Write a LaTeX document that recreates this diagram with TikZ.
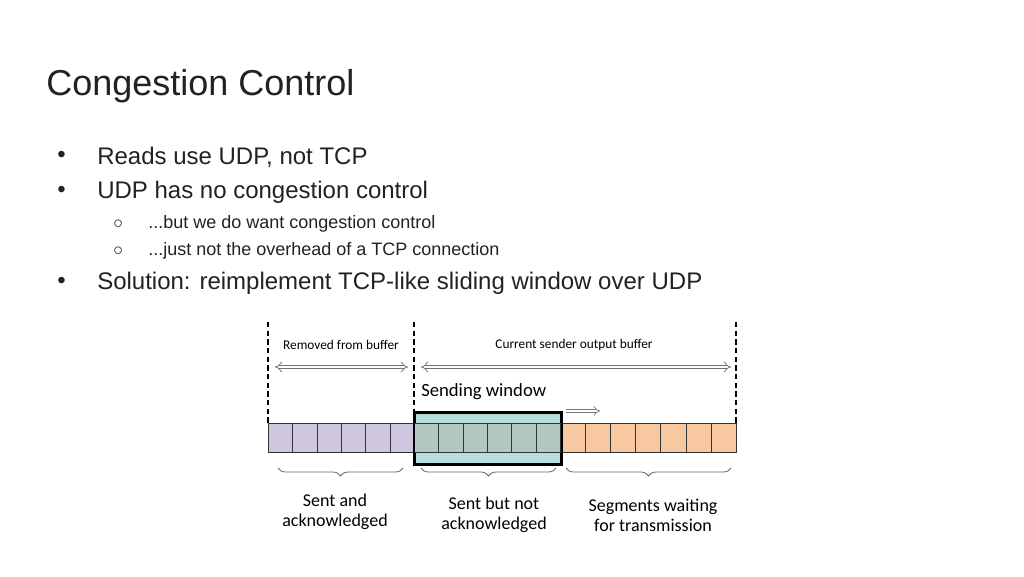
\documentclass[tikz,border=0pt]{standalone}
\usepackage{fontspec}
\setmainfont{Liberation Sans}
\newfontfamily\calfont{Carlito}
\usetikzlibrary{arrows.meta,decorations.pathreplacing}
\definecolor{purp}{HTML}{CEC6DC}
\definecolor{win}{HTML}{B5DEDF}
\definecolor{wcell}{HTML}{B2C7BE}
\definecolor{oran}{HTML}{F8C8A0}
\definecolor{txt}{HTML}{222222}
\tikzset{
 cellbox/.style={draw=black!80,line width=0.6pt,minimum width=24.4*0.75pt,minimum height=29*0.75pt,inner sep=0pt,anchor=north west},
 dline/.style={line width=1.4pt,dash pattern=on 4pt off 2.5pt},
 dbl/.style={double=white,double distance=2.2pt,draw=black!55,line width=0.6pt,{Implies}-{Implies}},
 brc/.style={decorate,decoration={brace,mirror,amplitude=6pt},draw=black!60,line width=0.6pt},
 bul/.style={anchor=west,text=txt,font=\fontsize{18pt}{20pt}\selectfont,inner sep=0pt},
 sub/.style={anchor=west,text=txt,font=\fontsize{13.5pt}{15pt}\selectfont,inner sep=0pt},
 lbl/.style={font=\calfont\fontsize{13.5pt}{15pt}\selectfont,align=center,inner sep=0pt},
}
\begin{document}
\begin{tikzpicture}[x=0.75pt,y=-0.75pt]
\useasboundingbox[fill=white] (0,0) rectangle (1024,576);
\node[anchor=west,text=txt,font=\fontsize{27pt}{30pt}\selectfont,inner sep=0pt] (title) at (46,86) {Congestion Control};
\node[bul] (b1d) at (57,157) {\textbullet};
\node[bul] (b1) at (97,157) {Reads use UDP, not TCP};
\node[bul] (b2d) at (57,192) {\textbullet};
\node[bul] (b2) at (97,192) {UDP has no congestion control};
\node[sub] (s1d) at (113,224) {$\circ$};
\node[sub] (s1) at (148,224) {...but we do want congestion control};
\node[sub] (s2d) at (113,251) {$\circ$};
\node[sub] (s2) at (148,251) {...just not the overhead of a TCP connection};
\node[bul] (b3d) at (57,283) {\textbullet};
\node[bul] (b3) at (97,283) {Solution: reimplement TCP-like sliding window over UDP};
% window box
\node[draw=black,line width=1.6pt,fill=win,minimum width=146*0.75pt,minimum height=51*0.75pt,inner sep=0pt,anchor=north west] (win) at (414,412) {};
\foreach \i in {0,...,5}{
 \node[cellbox,fill=purp] (p\i) at (268+\i*24.35,423) {};
 \node[cellbox,fill=wcell] (w\i) at (414+\i*24.35,423) {};
}
\foreach \i in {0,...,6}{
 \node[cellbox,fill=oran,minimum width=25.1*0.75pt] (o\i) at (560+\i*25.1,423) {};
}
\draw[line width=1.6pt] (win.north west) rectangle (win.south east);
% dashed lines
\coordinate (d1t) at (268,322); \coordinate (d1b) at (268,423);
\coordinate (d2t) at (414,322); \coordinate (d2b) at (414,412);
\coordinate (d3t) at (736,322); \coordinate (d3b) at (736,423);
\draw[dline] (d1t)--(d1b); \draw[dline] (d2t)--(d2b); \draw[dline] (d3t)--(d3b);
\node[lbl,font=\calfont\fontsize{10pt}{12pt}\selectfont] (rem) at (341,345) {Removed from buffer};
\node[lbl,font=\calfont\fontsize{10pt}{12pt}\selectfont] (cur) at (574,345) {Current sender output buffer};
\coordinate (a1l) at (275,367); \coordinate (a1r) at (408,367);
\coordinate (a2l) at (421,367); \coordinate (a2r) at (731,367);
\draw[dbl] (a1l)--(a1r); \draw[dbl] (a2l)--(a2r);
\node[lbl,anchor=west,font=\calfont\fontsize{14pt}{16pt}\selectfont] (sw) at (421,392) {Sending window};
\coordinate (m1) at (566,411); \coordinate (m2) at (600,411);
\draw[double=white,double distance=2pt,draw=black!55,line width=0.5pt,-{Implies}] (m1)--(m2);
% braces
\draw[brc] (278,468) -- (403,468);
\draw[brc] (421,468) -- (556,468);
\draw[brc] (566,468) -- (731,468);
\node[lbl] (l1) at (335,512) {Sent and\\acknowledged};
\node[lbl] (l2) at (494,515) {Sent but not\\acknowledged};
\node[lbl] (l3) at (653,515) {Segments waiting\\for transmission};
\end{tikzpicture}
\end{document}
